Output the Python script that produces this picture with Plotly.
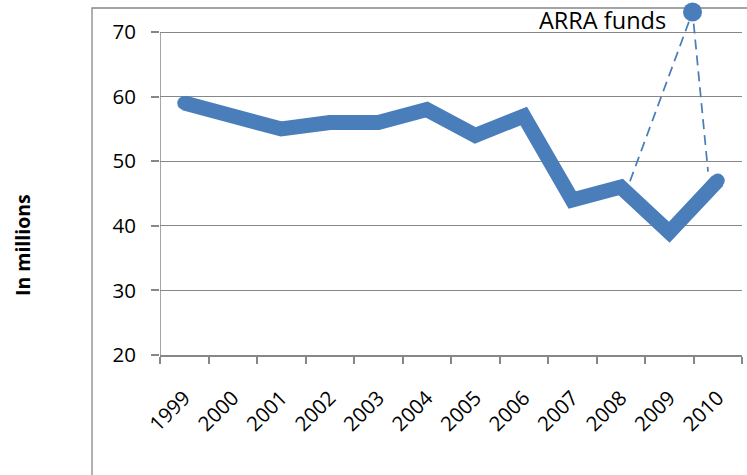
import plotly.graph_objects as go

years = ["1999", "2000", "2001", "2002", "2003", "2004", "2005", "2006", "2007", "2008", "2009", "2010"]
values = [59, 57, 55, 56, 56, 58, 54, 57, 44, 46, 39, 47]

# ARRA funds dashed helper series (category-index positions)
arra_x = [9.19, 10.48, 10.80]
arra_y = [46.9, 73.1, 48.4]
arra_label = "ARRA funds"
arra_label_y = 71.85

y_ticks = [20, 30, 40, 50, 60, 70]

blue = "#4A7EBB"
gray = "#878787"
font_family = "Open Sans, sans-serif"

xs = list(range(len(years)))

fig = go.Figure()
fig.add_trace(go.Scatter(
    x=xs, y=values, mode="lines+markers",
    line=dict(color=blue, width=15),
    marker=dict(color=blue, size=14, line=dict(width=0)),
    hoverinfo="skip", showlegend=False,
))
fig.add_trace(go.Scatter(
    x=arra_x, y=arra_y, mode="lines",
    line=dict(color=blue, width=1.75, dash="10px,6px"),
    cliponaxis=False, hoverinfo="skip", showlegend=False,
))
fig.add_trace(go.Scatter(
    x=[arra_x[1]], y=[arra_y[1]], mode="markers",
    marker=dict(color=blue, size=19),
    cliponaxis=False, hoverinfo="skip", showlegend=False,
))

fig.add_annotation(
    x=arra_x[1], y=arra_label_y, xref="x", yref="y", text=arra_label,
    showarrow=False, xanchor="right", yanchor="middle", xshift=-25,
    font=dict(family=font_family, size=23.5, color="#000000"),
)

fig.add_annotation(
    x=-0.237, y=0.3125, xref="paper", yref="paper", text="<b>In millions</b>",
    showarrow=False, textangle=-90, xanchor="center", yanchor="middle",
    font=dict(family=font_family, size=19.5, color="#000000"),
)

# outer chart border
fig.add_shape(type="rect", xref="paper", yref="paper",
              x0=-0.1168, x1=1.2, y0=-0.6, y1=0.9858,
              line=dict(color=gray, width=1.3), layer="below")

# y axis line (only spans the ticked range)
fig.add_shape(type="line", xref="x", yref="y",
              x0=-0.5, x1=-0.5, y0=min(y_ticks), y1=max(y_ticks),
              line=dict(color=gray, width=1.5), layer="below")

fig.update_xaxes(
    range=[-0.5, 11.5], tickvals=xs, ticktext=years, tickangle=-45,
    ticks="", showgrid=False, zeroline=False,
    showline=True, linecolor=gray, linewidth=1.5,
    minor=dict(tickvals=[i - 0.5 for i in range(len(years) + 1)],
               ticks="outside", ticklen=7, tickcolor=gray, tickwidth=1.5, showgrid=False),
    tickfont=dict(family=font_family, size=20.5, color="#000000"),
    ticklabelstandoff=21,
)
fig.update_yaxes(
    range=[20, 74.5], tickvals=y_ticks,
    showgrid=True, gridcolor=gray, gridwidth=1.3, zeroline=False,
    showline=False,
    ticks="outside", ticklen=8, tickcolor=gray, tickwidth=1.5,
    tickfont=dict(family=font_family, size=20.5, color="#000000"),
    ticklabelstandoff=11,
)

fig.update_layout(
    width=747, height=475,
    margin=dict(l=160, r=5, t=3, b=120),
    paper_bgcolor="white", plot_bgcolor="rgba(0,0,0,0)",
    showlegend=False,
)

fig.write_html("out.html", config={"displayModeBar": False},
               post_script="document.body.style.margin='0px';")
